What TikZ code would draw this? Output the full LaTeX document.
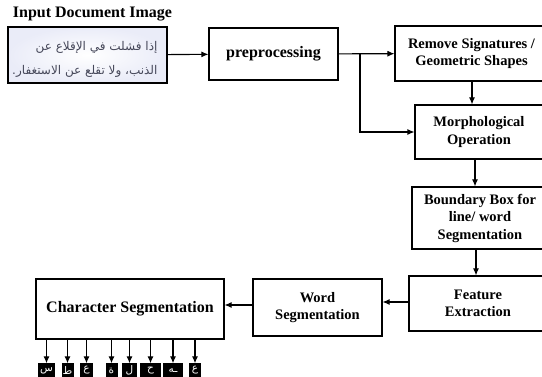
\documentclass[tikz,border=0pt]{standalone}
\usepackage{fontspec}
\setmainfont{Liberation Serif}
\newfontfamily\arabicfont[Script=Arabic]{DejaVu Sans}
\TeXXeTstate=1
\usetikzlibrary{arrows.meta}
\definecolor{inkgray}{RGB}{70,72,90}
\definecolor{glow}{RGB}{234,236,248}
\tikzset{
  stage/.style={draw, line width=1.1pt, font=\bfseries\fontsize{14.5}{17.5}\selectfont, align=center, inner sep=0pt},
  bigstage/.style={stage, font=\bfseries\fontsize{16}{18}\selectfont},
  flow/.style={line width=1.1pt, -{Latex[length=7pt,width=6pt]}},
  glyph/.style={fill=black, text=white, inner sep=0pt, minimum height=14, font=\arabicfont\fontsize{10.5}{10.5}\selectfont}
}
\begin{document}
\begin{tikzpicture}[x=1pt, y=-1pt]
\useasboundingbox (0,0) rectangle (542,377);
\clip (0,0) rectangle (542,377);
% input image
\node[font=\bfseries\fontsize{16}{18}\selectfont] (title) at (92.5,14) {Input Document Image};
\node[draw, line width=1.1pt, inner color=white, outer color=glow, minimum width=159, minimum height=56] (inimg) at (87.5,55){};
\node[anchor=east, text=inkgray, font=\arabicfont\fontsize{12}{12}\selectfont] (ar1) at (161,47){\beginR إذا فشلت في الإقلاع عن\endR};
\node[anchor=east, text=inkgray, font=\arabicfont\fontsize{12}{12}\selectfont] (ar2) at (161,71){\beginR الذنب، ولا تقلع عن الاستغفار.\endR};
% stages
\node[bigstage, minimum width=129, minimum height=52] (prep) at (273.5,54){preprocessing};
\node[stage, minimum width=153, minimum height=55] (remove) at (471.5,53.5){Remove Signatures /\\Geometric Shapes};
\node[stage, minimum width=128, minimum height=54] (morph) at (479,132){Morphological\\Operation};
\node[stage, minimum width=136, minimum height=62] (bbox) at (480,218){Boundary Box for\\line/ word\\Segmentation};
\node[stage, minimum width=138, minimum height=55] (feat) at (478,303.5){Feature\\Extraction};
\node[stage, minimum width=129, minimum height=57] (word) at (317.5,307.5){Word\\Segmentation};
\node[bigstage, minimum width=188, minimum height=60] (charseg) at (130,309){Character Segmentation};
\draw[flow](inimg) -- (prep);
\draw[flow](prep) -- (remove);
\coordinate (split) at (360,54);
\draw[flow](split) |- (morph);
\draw[flow](remove.south -| 472,0) -- (morph.north -| 472,0);
\draw[flow](morph.south -| 475,0) -- (bbox.north -| 475,0);
\draw[flow](bbox.south -| 476,0) -- (feat.north -| 476,0);
\draw[flow](feat.west |- 0,302) -- (word.east |- 0,302);
\draw[flow](word.west |- 0,305) -- (charseg.east |- 0,305);
% segmented characters
\node[glyph, minimum width=17] (c1) at (46.5,370.5){س};
\node[glyph, minimum width=12] (c2) at (67.5,370.5){ط};
\node[glyph, minimum width=13] (c3) at (86.5,370.5){ع};
\node[glyph, minimum width=12] (c4) at (111.5,370.5){ة};
\node[glyph, minimum width=15] (c5) at (129.5,370.5){ل};
\node[glyph, minimum width=21] (c6) at (150.5,370.5){ح};
\node[glyph, minimum width=20] (c7) at (173,370.5){ـه};
\node[glyph, minimum width=12] (c8) at (195,370.5){ع};
\draw[flow](charseg.south -| c1) -- (c1);
\draw[flow](charseg.south -| c2) -- (c2);
\draw[flow](charseg.south -| c3) -- (c3);
\draw[flow](charseg.south -| c4) -- (c4);
\draw[flow](charseg.south -| c5) -- (c5);
\draw[flow](charseg.south -| c6) -- (c6);
\draw[flow](charseg.south -| c7) -- (c7);
\draw[flow](charseg.south -| c8) -- (c8);
\end{tikzpicture}
\end{document}
